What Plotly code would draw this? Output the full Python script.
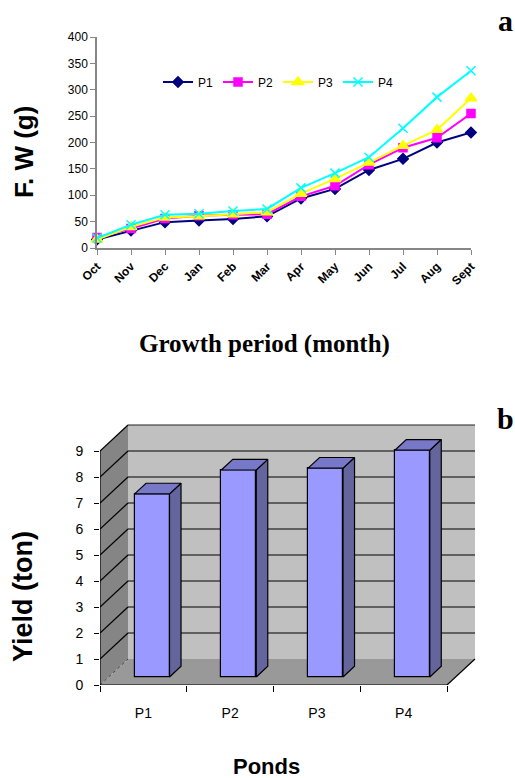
import plotly.graph_objects as go

# ---------------- data ----------------
months = ["Oct", "Nov", "Dec", "Jan", "Feb", "Mar", "Apr", "May", "Jun", "Jul", "Aug", "Sept"]
p1 = [16, 33, 49, 52, 55, 60, 94, 112, 148, 169, 200, 219]
p2 = [20, 37, 56, 61, 63, 64, 98, 118, 158, 190, 209, 255]
p3 = [16, 40, 58, 60, 64, 68, 103, 131, 162, 194, 224, 284]
p4 = [19, 44, 63, 65, 70, 74, 114, 142, 172, 227, 286, 336]
fw_ticks = [0, 50, 100, 150, 200, 250, 300, 350, 400]

ponds = ["P1", "P2", "P3", "P4"]
yields = [7.04, 7.96, 8.03, 8.72]
yield_ticks = [0, 1, 2, 3, 4, 5, 6, 7, 8, 9]

# ---------------- style / geometry ----------------
W, H = 515, 778
SANS = "Liberation Sans, Arial, sans-serif"
SERIF = "Liberation Serif, Times New Roman, serif"
AX_GRAY = "#868686"

# top panel pixel placement
TOP_X0, TOP_X1 = 97, 471
TOP_Y0, TOP_Y1 = 248, 37   # pixel y of value 0 and 400

# bottom panel (pseudo 3-D)
CAT_PX = 86.75       # px per category along the front axis
VAL_PX = 26.0        # px per ton
BOT_X0 = 100         # px of front y-axis
BOT_Y0 = 685         # px of front 0 line
DEPTH_DX = 28 / CAT_PX   # full depth shift in category units
DEPTH_DY = 1.0           # full depth shift in value units
BAR_F0 = 0.31            # bar front depth fraction
BAR_T = 0.41             # bar thickness fraction
BAR_W = 0.403            # bar width in category units
X2_RANGE = [0, 4.45]
Y2_RANGE = [0, 10.3]

fig = go.Figure()

# ---------------- top: line chart ----------------
series = [
    ("P1", p1, "#000080", "diamond", 8),
    ("P2", p2, "#ff00ff", "square", 8),
    ("P3", p3, "#ffff00", "triangle-up", 10),
    ("P4", p4, "#00ffff", "x-thin", 9),
]
xs = list(range(len(months)))
for name, vals, col, sym, sz in series:
    fig.add_trace(go.Scatter(
        x=xs, y=vals, name=name, mode="lines+markers",
        line=dict(color=col, width=2),
        marker=dict(symbol=sym, size=sz, color=col, line=dict(color=col, width=1.5)),
        cliponaxis=False, xaxis="x", yaxis="y",
    ))

# ---------------- bottom: pseudo 3-D bars ----------------
base = BAR_F0 * DEPTH_DY
tdx, tdy = BAR_T * DEPTH_DX, BAR_T * DEPTH_DY
bar_x = [i + 0.5 + BAR_F0 * DEPTH_DX for i in range(len(ponds))]

fig.add_trace(go.Bar(
    x=bar_x, y=yields, base=[base] * len(yields), width=BAR_W,
    marker=dict(color="#9999ff", line=dict(color="black", width=1.2)),
    xaxis="x2", yaxis="y2", showlegend=False, hoverinfo="skip",
))
for xc, v in zip(bar_x, yields):
    xl, xr = xc - BAR_W / 2, xc + BAR_W / 2
    top = base + v
    # side face
    fig.add_trace(go.Scatter(
        x=[xr, xr + tdx, xr + tdx, xr, xr],
        y=[base, base + tdy, top + tdy, top, base],
        fill="toself", fillcolor="#65659e", mode="lines",
        line=dict(color="black", width=1.2),
        xaxis="x2", yaxis="y2", showlegend=False, hoverinfo="skip",
    ))
    # top face
    fig.add_trace(go.Scatter(
        x=[xl, xr, xr + tdx, xl + tdx, xl],
        y=[top, top, top + tdy, top + tdy, top],
        fill="toself", fillcolor="#7878c8", mode="lines",
        line=dict(color="black", width=1.2),
        xaxis="x2", yaxis="y2", showlegend=False, hoverinfo="skip",
    ))

# walls, floor and gridlines as shapes
ncat = len(ponds)
ymax = yield_ticks[-1]
shapes = []
def poly(pts, fill, lw=0, lc="black", dash="solid", layer="below"):
    path = "M " + " L ".join(f"{x},{y}" for x, y in pts) + " Z"
    return dict(type="path", path=path, xref="x2", yref="y2", fillcolor=fill,
                line=dict(width=lw, color=lc, dash=dash), layer=layer)

# back wall
shapes.append(poly([(DEPTH_DX, DEPTH_DY), (ncat + DEPTH_DX, DEPTH_DY),
                    (ncat + DEPTH_DX, ymax + DEPTH_DY), (DEPTH_DX, ymax + DEPTH_DY)], "#c0c0c0"))
# left wall
shapes.append(poly([(0, 0), (DEPTH_DX, DEPTH_DY), (DEPTH_DX, ymax + DEPTH_DY), (0, ymax)], "#858585"))
# floor
shapes.append(poly([(0, 0), (ncat, 0), (ncat + DEPTH_DX, DEPTH_DY), (DEPTH_DX, DEPTH_DY)], "#999999"))

def seg(x0, y0, x1, y1, color="black", width=1.2, dash="solid", layer="below"):
    return dict(type="line", x0=x0, y0=y0, x1=x1, y1=y1, xref="x2", yref="y2",
                line=dict(color=color, width=width, dash=dash), layer=layer)

for v in yield_ticks[1:]:
    shapes.append(seg(DEPTH_DX, v + DEPTH_DY, ncat + DEPTH_DX, v + DEPTH_DY,
                      color="#222222" if v == ymax else "black"))
    shapes.append(seg(0, v, DEPTH_DX, v + DEPTH_DY))
# floor edges
shapes.append(seg(0, 0, DEPTH_DX, DEPTH_DY, color="#444444", width=1, dash="dot"))
shapes.append(seg(ncat, 0, ncat + DEPTH_DX, DEPTH_DY, layer="above"))
# front axes
shapes.append(seg(0, 0, 0, ymax, layer="above"))
shapes.append(seg(0, 0, ncat, 0, layer="above"))

# ---------------- layout ----------------
def fx(px):
    return px / W
def fy(py):
    return 1 - py / H

top_dom_x = [fx(TOP_X0), fx(TOP_X1)]
top_dom_y = [fy(TOP_Y0), fy(TOP_Y1)]
x2_dom = [fx(BOT_X0), fx(BOT_X0 + (X2_RANGE[1] - X2_RANGE[0]) * CAT_PX)]
y2_dom = [fy(BOT_Y0), fy(BOT_Y0 - (Y2_RANGE[1] - Y2_RANGE[0]) * VAL_PX)]

def label(text, px, py, family, size, angle=0):
    return dict(text=text, x=fx(px), y=fy(py), xref="paper", yref="paper",
                xanchor="center", yanchor="middle", textangle=angle, showarrow=False,
                font=dict(family=family, size=size, color="black"))

annotations = [
    label("<b>F. W (g)</b>", 24, 152, SANS, 26, -90),
    label("<b>Growth period (month)</b>", 264, 344, SERIF, 25),
    label("<b>a</b>", 505, 20, SERIF, 30),
    label("<b>b</b>", 505, 418, SERIF, 30),
    label("<b>Yield (ton)</b>", 23, 597, SANS, 27, -90),
    label("<b>Ponds</b>", 266, 766, SANS, 22),
]

fig.update_layout(
    width=W, height=H, margin=dict(l=0, r=0, t=0, b=0, autoexpand=False),
    paper_bgcolor="white", plot_bgcolor="rgba(0,0,0,0)",
    font=dict(family=SANS, color="black"),
    xaxis=dict(domain=top_dom_x, range=[0, len(months) - 1], tickvals=xs, ticktext=months,
               tickangle=-45, tickfont=dict(family=SANS, size=12, color="black", weight="bold"),
               showline=True, linecolor=AX_GRAY, linewidth=1.5, ticks="outside",
               tickcolor=AX_GRAY, ticklen=5, showgrid=False, zeroline=False, anchor="y",
               automargin=False),
    yaxis=dict(domain=top_dom_y, range=[0, 400], tickvals=fw_ticks,
               tickfont=dict(family=SANS, size=12, color="black"),
               showline=True, linecolor=AX_GRAY, linewidth=1.5, ticks="outside",
               tickcolor=AX_GRAY, ticklen=5, showgrid=False, zeroline=False, anchor="x",
               automargin=False),
    xaxis2=dict(domain=x2_dom, range=X2_RANGE,
                tickvals=[i + 0.5 for i in range(ncat)], ticktext=ponds,
                tickfont=dict(family=SANS, size=14, color="black"),
                ticks="", showline=False, showgrid=False, zeroline=False, anchor="y2",
                ticklabelstandoff=18, automargin=False,
                minor=dict(tickvals=list(range(ncat + 1)), ticks="outside", ticklen=6,
                           tickcolor="black", tickwidth=1.2, showgrid=False)),
    yaxis2=dict(domain=y2_dom, range=Y2_RANGE, tickvals=yield_ticks,
                tickfont=dict(family=SANS, size=14, color="black"),
                ticks="outside", ticklen=5, tickcolor="black", tickwidth=1.2,
                ticklabelstandoff=8, automargin=False,
                showline=False, showgrid=False, zeroline=False, anchor="x2"),
    legend=dict(orientation="h", x=fx(158), y=fy(82), xanchor="left", yanchor="middle",
                bgcolor="rgba(0,0,0,0)", font=dict(family=SANS, size=12, color="black"),
                itemwidth=30, tracegroupgap=0),
    shapes=shapes,
    annotations=annotations,
    bargap=0,
)

fig.write_html("out.html")
